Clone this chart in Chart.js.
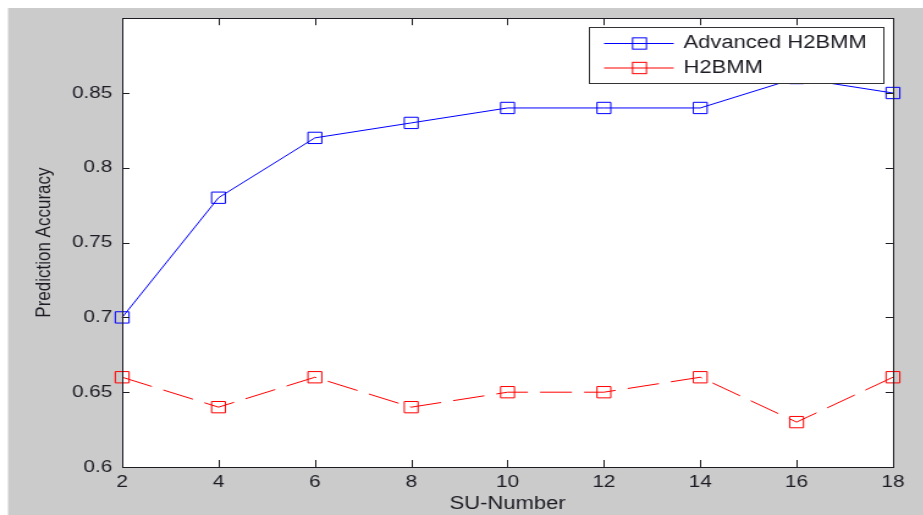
<!DOCTYPE html>
<html>
<head>
<meta charset="utf-8">
<title>Prediction Accuracy vs SU-Number</title>
<script src="https://cdn.jsdelivr.net/npm/chart.js@4.4.1/dist/chart.umd.min.js"></script>
<style>
  html, body { margin: 0; padding: 0; background: #fff; overflow: hidden; }
  /* the original picture is stretched sideways, so the whole chart is too */
  #wrap { width: 756.56px; height: 515px; transform: scaleX(1.22); transform-origin: 0 0; }
</style>
</head>
<body>
<div id="wrap"><canvas id="chart"></canvas></div>
<script>
const suNumbers = [2, 4, 6, 8, 10, 12, 14, 16, 18];
const advancedAccuracy = [0.70, 0.78, 0.82, 0.83, 0.84, 0.84, 0.84, 0.86, 0.85];
const h2bmmAccuracy = [0.66, 0.64, 0.66, 0.64, 0.65, 0.65, 0.66, 0.63, 0.66];
const yTickLabels = [0.6, 0.65, 0.7, 0.75, 0.8, 0.85];
const seriesNames = ["Advanced H2BMM", "H2BMM"];

const STRETCH = 1.22;
const INK = "#1c1c24";
const FONT = "'Liberation Sans', Arial, sans-serif";

function points(values) {
  return suNumbers.map((x, i) => ({ x: x, y: values[i] }));
}

const backdrop = {
  id: "backdrop",
  beforeDraw(chart) {
    const ctx = chart.ctx;
    ctx.save();
    ctx.fillStyle = "#fff";
    ctx.fillRect(0, 0, chart.width, chart.height);
    ctx.fillStyle = "#cbcbcb";
    ctx.fillRect(8 / STRETCH, 8, chart.width, chart.height);
    const a = chart.chartArea;
    ctx.fillStyle = "#fff";
    ctx.fillRect(a.left, a.top, a.right - a.left, a.bottom - a.top);
    ctx.restore();
  }
};

const frame = {
  id: "frame",
  afterDraw(chart) {
    const ctx = chart.ctx;
    const a = chart.chartArea;
    const xs = chart.scales.x;
    const ys = chart.scales.y;
    ctx.save();
    ctx.strokeStyle = INK;
    ctx.lineWidth = 1;
    ctx.beginPath();
    xs.ticks.forEach((t) => {
      const px = Math.round(xs.getPixelForValue(t.value)) + 0.5;
      ctx.moveTo(px, a.bottom); ctx.lineTo(px, a.bottom - 7);
      ctx.moveTo(px, a.top); ctx.lineTo(px, a.top + 7);
    });
    ys.ticks.forEach((t) => {
      const py = Math.round(ys.getPixelForValue(t.value)) + 0.5;
      ctx.moveTo(a.left, py); ctx.lineTo(a.left + 6, py);
      ctx.moveTo(a.right, py); ctx.lineTo(a.right - 6, py);
    });
    ctx.stroke();
    ctx.strokeRect(Math.round(a.left) + 0.5, Math.round(a.top) + 0.5,
      Math.round(a.right - a.left), Math.round(a.bottom - a.top));

    // legend box, top right inside the axes
    const w = 241, h = 56;
    const lx = Math.round(a.right - 8 - w) + 0.5;
    const ly = Math.round(a.top + 9) + 0.5;
    ctx.fillStyle = "#fff";
    ctx.fillRect(lx, ly, w, h);
    ctx.strokeStyle = "#333";
    ctx.strokeRect(lx, ly, w, h);
    chart.data.datasets.forEach((ds, i) => {
      const cy = ly + 16 + i * 24.5;
      ctx.strokeStyle = ds.borderColor;
      ctx.setLineDash([]);
      ctx.beginPath();
      ctx.moveTo(lx + 12, cy);
      ctx.lineTo(lx + 69, cy);
      ctx.stroke();
      const s = ds.pointRadius * Math.SQRT1_2;
      ctx.strokeRect(lx + 41 - s, cy - s, 2 * s, 2 * s);
      ctx.fillStyle = INK;
      ctx.font = "18px " + FONT;
      ctx.textBaseline = "middle";
      ctx.fillText(ds.label, lx + 77, cy);
    });
    ctx.restore();
  }
};

new Chart(document.getElementById("chart"), {
  type: "line",
  data: {
    datasets: [
      {
        label: seriesNames[0],
        data: points(advancedAccuracy),
        borderColor: "#0000ff",
        borderWidth: 1,
        pointStyle: "rect",
        pointRadius: 8,
        pointBorderWidth: 1,
        pointBackgroundColor: "transparent",
        clip: false
      },
      {
        label: seriesNames[1],
        data: points(h2bmmAccuracy),
        borderColor: "#ff0000",
        borderWidth: 1,
        borderDash: [26, 10],
        pointStyle: "rect",
        pointRadius: 8,
        pointBorderWidth: 1,
        pointBackgroundColor: "transparent",
        clip: false
      }
    ]
  },
  options: {
    responsive: true,
    maintainAspectRatio: false,
    animation: false,
    events: [],
    layout: { padding: { top: 14, right: 25.56, bottom: 0, left: 0 } },
    plugins: {
      legend: { display: false },
      tooltip: { enabled: false }
    },
    scales: {
      x: {
        type: "linear",
        min: suNumbers[0],
        max: suNumbers[suNumbers.length - 1],
        grid: { display: false, drawTicks: false },
        border: { display: false },
        ticks: { stepSize: 2, padding: 5, color: INK, font: { family: FONT, size: 17 } },
        title: {
          display: true,
          text: "SU-Number",
          color: INK,
          font: { family: FONT, size: 18 },
          padding: { top: 0, bottom: 0 }
        },
        afterFit(scale) { scale.height = 48; }
      },
      y: {
        min: 0.6,
        max: 0.9,
        grid: { display: false, drawTicks: false },
        border: { display: false },
        ticks: {
          stepSize: 0.05,
          padding: 8,
          color: INK,
          font: { family: FONT, size: 17 },
          callback(value) {
            return yTickLabels.some((v) => Math.abs(v - value) < 1e-6) ? String(+value.toFixed(2)) : "";
          }
        },
        title: {
          display: true,
          text: "Prediction Accuracy",
          color: INK,
          font: { family: FONT, size: 17 },
          padding: { top: 26, bottom: 0 }
        },
        afterFit(scale) { scale.width = 100; }
      }
    }
  },
  plugins: [backdrop, frame]
});
</script>
</body>
</html>
